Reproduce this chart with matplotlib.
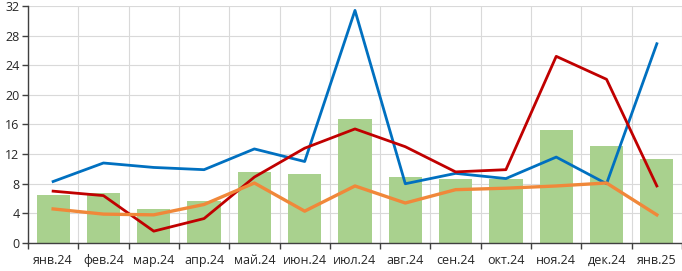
import numpy as np
import matplotlib.pyplot as plt

months = ['янв.24', 'фев.24', 'мар.24', 'апр.24', 'май.24', 'июн.24', 'июл.24',
          'авг.24', 'сен.24', 'окт.24', 'ноя.24', 'дек.24', 'янв.25']
bars = [6.5, 6.8, 4.6, 5.7, 9.6, 9.3, 16.8, 8.9, 8.7, 8.6, 15.3, 13.1, 11.3]
blue = [8.3, 10.8, 10.2, 9.9, 12.7, 11.0, 31.4, 8.0, 9.4, 8.7, 11.6, 8.0, 26.9]
red = [7.0, 6.4, 1.6, 3.3, 8.9, 12.8, 15.4, 13.0, 9.6, 9.9, 25.2, 22.1, 7.7]
orange = [4.6, 3.9, 3.8, 5.2, 8.1, 4.3, 7.7, 5.4, 7.2, 7.4, 7.7, 8.1, 3.8]

plt.rcParams['font.family'] = ['Open Sans', 'DejaVu Sans']

fig = plt.figure(figsize=(6.82, 2.71), dpi=100)
ax = fig.add_axes([0.041, 0.1033, 0.959, 0.8747])

x = np.arange(len(months))
ax.bar(x, bars, width=0.66, color='#A9D18E', zorder=2)
ax.plot(x, blue, color='#0070C0', lw=2.0, zorder=3)
ax.plot(x, red, color='#C00000', lw=2.0, zorder=4)
ax.plot(x, orange, color='#F0883A', lw=2.4, zorder=5)

ax.set_xlim(-0.5, len(months) - 0.5)
ax.set_ylim(0, 32)
ax.set_yticks(np.arange(0, 33, 4))
ax.set_xticks(x)
ax.set_xticklabels(months)
ax.set_xticks(np.arange(-0.5, len(months), 1), minor=True)

ax.grid(True, which='minor', axis='x', color='#D9D9D9', lw=0.8, zorder=0)
ax.grid(True, which='major', axis='y', color='#D9D9D9', lw=0.8, zorder=0)
ax.tick_params(axis='x', which='major', length=0, labelsize=9, pad=8, colors='#262626')
ax.tick_params(axis='x', which='minor', length=4, width=1, color='#404040', direction='out')
ax.tick_params(axis='y', length=4, width=1, color='#404040', labelsize=9, pad=2, labelcolor='#262626')

for s in ['top', 'right']:
    ax.spines[s].set_visible(False)
for s in ['left', 'bottom']:
    ax.spines[s].set_color('#404040')
    ax.spines[s].set_linewidth(1)

fig.savefig('out.png', dpi=100)
